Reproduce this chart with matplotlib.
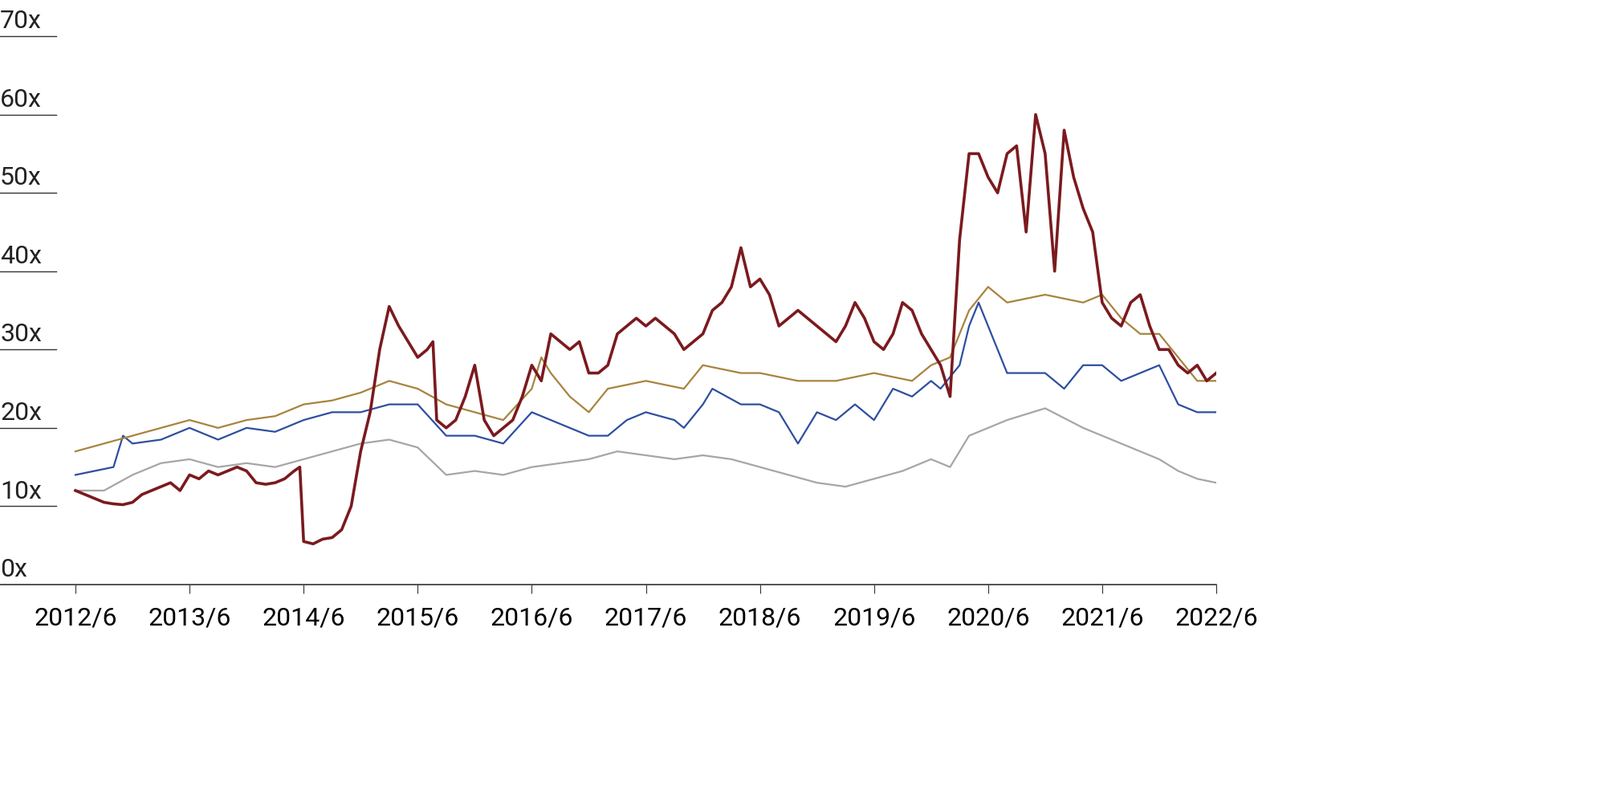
import matplotlib
matplotlib.use("Agg")
import matplotlib.pyplot as plt

# month index: 0 = 2012/6
red_m = list(range(0, 24)) + [23.6] + list(range(24, 38)) + [37.6] + list(range(38, 121))
red_v = ([12,11.5,11,10.5,10.3,10.2,10.5,11.5,12,12.5,
          13,12,14,13.5,14.5,14,14.5,15,14.5,13,
          12.8,13,13.5,14.5]
         + [15]
         + [5.5,5.2,5.8,6,7,10,17,22,30,35.5,33,31,29,30]
         + [31]
         + [21,20,21,24,28,21,19,20,21,24,28,26,
            32,31,30,31,27,27,28,32,33,34,
            33,34,33,32,30,31,32,35,36,38,
            43,38,39,37,33,34,35,34,33,32,
            31,33,36,34,31,30,32,36,35,32,
            30,28,24,44,55,55,52,50,55,56,
            45,60,55,40,58,52,48,45,36,34,
            33,36,37,33,30,30,28,27,28,26,27])
gold_m = [0,3,6,9,12,15,18,21,24,27,30,33,36,39,42,45,48,49,50,52,54,56,60,64,66,70,72,76,80,84,88,90,92,94,96,98,102,106,108,110,112,114,116,118,120]
gold_v = [17,18,19,20,21,20,21,21.5,23,23.5,24.5,26,25,23,22,21,25,29,27,24,22,25,26,25,28,27,27,26,26,27,26,28,29,35,38,36,37,36,37,34,32,32,29,26,26]
blue_m = [0,4,5,6,9,12,15,18,21,24,27,30,33,36,39,42,45,48,50,54,56,58,60,63,64,66,67,70,72,74,76,78,80,82,84,86,88,90,91,93,94,95,97,98,102,104,106,108,110,112,114,116,118,120]
blue_v = [14,15,19,18,18.5,20,18.5,20,19.5,21,22,22,23,23,19,19,18,22,21,19,19,21,22,21,20,23,25,23,23,22,18,22,21,23,21,25,24,26,25,28,33,36,30,27,27,25,28,28,26,27,28,23,22,22]
gray_m = [0,3,6,9,12,15,18,21,24,27,30,33,36,39,42,45,48,51,54,57,60,63,66,69,72,75,78,81,84,87,90,92,93,94,96,98,102,106,108,110,112,114,116,118,120]
gray_v = [12,12,14,15.5,16,15,15.5,15,16,17,18,18.5,17.5,14,14.5,14,15,15.5,16,17,16.5,16,16.5,16,15,14,13,12.5,13.5,14.5,16,15,17,19,20,21,22.5,20,19,18,17,16,14.5,13.5,13]
x_labels = ["2012/6","2013/6","2014/6","2015/6","2016/6","2017/6","2018/6","2019/6","2020/6","2021/6","2022/6"]
y_ticks = [0,10,20,30,40,50,60,70]

W, H = 1993, 1000
fig = plt.figure(figsize=(W/100, H/100), dpi=100)
ax = fig.add_axes([0, 1-728/H, 1515/W, (728-45)/H])
px_per_m = (1515-94)/120
ax.set_xlim(-94/px_per_m, 120)
ax.set_ylim(0, 70)
for s in ["top", "right", "left"]:
    ax.spines[s].set_visible(False)
ax.spines["bottom"].set_color("#333333")
ax.spines["bottom"].set_linewidth(1.2)
ax.set_yticks([])
ax.set_xticks([12*i for i in range(11)])
ax.set_xticklabels(x_labels, fontsize=23, fontfamily="Roboto")
ax.tick_params(axis="x", length=8, color="#333333", pad=12)

ax.plot(gray_m, gray_v, color="#A6A6A6", lw=1.6)
ax.plot(blue_m, blue_v, color="#2E4FA0", lw=1.6)
ax.plot(gold_m, gold_v, color="#A8843E", lw=1.6)
ax.plot(red_m, red_v, color="#7B1A1E", lw=2.6)

x0 = -94/px_per_m
x70 = x0 + 70/px_per_m
for v in y_ticks:
    if v > 0:
        ax.plot([x0, x70], [v, v], color="#333333", lw=1.0, clip_on=False)
    ax.text(x0, v + 0.4, f"{v}x", fontsize=23, fontfamily="Roboto",
            ha="left", va="bottom", color="#222222")

fig.savefig("out.png", dpi=100)
